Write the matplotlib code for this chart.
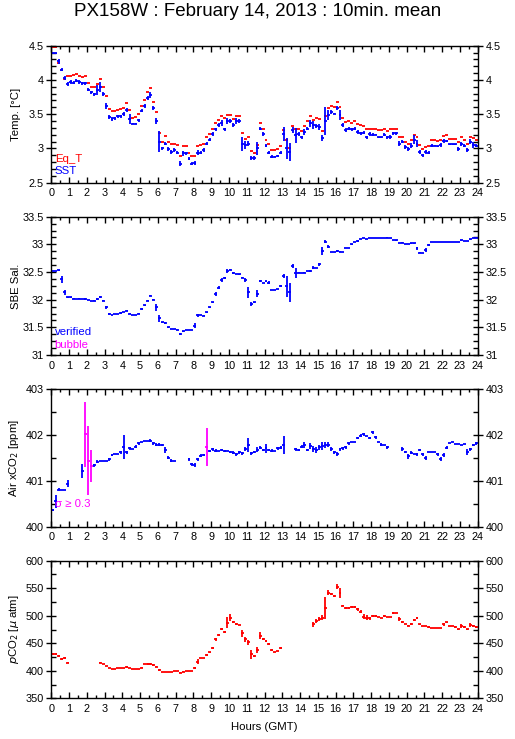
import numpy as np
import matplotlib
matplotlib.use("Agg")
import matplotlib.pyplot as plt
from matplotlib.ticker import MultipleLocator, FixedLocator

plt.rcParams['font.family'] = ['Liberation Sans', 'DejaVu Sans']

nan = np.nan
TITLE = "PX158W : February 14, 2013 : 10min. mean"
N_BINS = 144  # 10-minute bins over 24 hours
hour_ticks = list(range(25))

# ---------------- Panel 1: temperatures ----------------
sst = [4.39, 4.39, 4.27, 4.15, 4.03, 3.94, 3.97, 3.96, 3.99, 3.97, 3.95, 3.95,
       3.86, 3.82, 3.79, 3.85, 3.90, 3.80, 3.62, 3.46, 3.43, 3.44, 3.47, 3.47,
       3.50, 3.56, 3.43, 3.36, 3.36, 3.41, 3.55, 3.62, 3.73, 3.78, 3.59, 3.40,
       3.10, 3.00, 3.07, 2.99, 2.95, 2.98, 2.94, 2.78, 2.93, 2.93, 2.85, 2.78,
       2.79, 2.94, 2.94, 2.98, 3.07, 3.13, 3.21, 3.28, 3.34, 3.37, 3.28, 3.40,
       3.40, 3.34, 3.40, 3.40, 3.07, 3.05, 3.07, 2.86, 2.86, 3.00, 3.29, 3.21,
       3.04, 2.94, 2.88, 2.88, 2.89, 2.94, 3.21, 3.00, 2.95, 3.27, 3.19, 3.21,
       3.16, 3.24, 3.29, 3.37, 3.34, 3.33, 3.31, 3.15, 3.40, 3.49, 3.53, 3.51,
       3.59, 3.49, 3.34, 3.27, 3.29, 3.28, 3.29, 3.24, 3.22, 3.23, 3.16, 3.21,
       3.20, 3.20, 3.16, 3.16, 3.20, 3.16, 3.17, 3.22, 3.22, 3.07, 3.10, 3.02,
       2.99, 3.04, 3.13, 3.07, 2.95, 2.90, 2.95, 2.94, 3.04, 3.04, 3.03, 3.05,
       3.11, 3.11, 3.06, 3.06, 3.06, 2.99, 3.07, 3.04, 2.98, 3.10, 3.05, 3.04]
sst_std = [0.01, 0.01, 0.03, 0.025, 0.025, 0.025, 0.025, 0.025, 0.025, 0.025, 0.025, 0.025,
           0.025, 0.025, 0.025, 0.07, 0.07, 0.03, 0.04, 0.025, 0.025, 0.025, 0.025, 0.025,
           0.03, 0.025, 0.07, 0.01, 0.01, 0.025, 0.025, 0.025, 0.03, 0.04, 0.025, 0.05,
           0.15, 0.025, 0.025, 0.025, 0.025, 0.025, 0.025, 0.04, 0.04, 0.025, 0.025, 0.025,
           0.03, 0.04, 0.025, 0.025, 0.025, 0.025, 0.025, 0.025, 0.025, 0.04, 0.025, 0.05,
           0.025, 0.025, 0.05, 0.025, 0.10, 0.06, 0.04, 0.03, 0.025, 0.10, 0.025, 0.025,
           0.025, 0.025, 0.025, 0.01, 0.01, 0.025, 0.10, 0.15, 0.13, 0.04, 0.11, 0.025,
           0.025, 0.04, 0.025, 0.05, 0.06, 0.025, 0.04, 0.04, 0.20, 0.07, 0.025, 0.01,
           0.025, 0.07, 0.025, 0.025, 0.025, 0.025, 0.025, 0.025, 0.025, 0.025, 0.025, 0.025,
           0.025, 0.01, 0.01, 0.01, 0.025, 0.025, 0.025, 0.025, 0.025, 0.04, 0.025, 0.025,
           0.025, 0.04, 0.065, 0.05, 0.025, 0.025, 0.025, 0.025, 0.025, 0.01, 0.01, 0.025,
           0.025, 0.01, 0.01, 0.01, 0.01, 0.025, 0.03, 0.025, 0.03, 0.04, 0.04, 0.025]
eq_t = [4.48, 4.48, 4.25, 4.14, 4.02, 4.06, 4.06, 4.07, 4.08, 4.06, 4.05, 4.06,
        3.96, 3.89, 3.89, 3.94, 4.01, 3.90, 3.76, 3.57, 3.54, 3.55, 3.56, 3.57,
        3.59, 3.66, 3.56, 3.45, 3.46, 3.50, 3.62, 3.70, 3.82, 3.88, 3.68, 3.53,
        3.23, 3.09, 3.18, 3.09, 3.07, 3.07, 3.05, 2.89, 3.03, 3.04, 2.94, 2.89,
        2.89, 3.04, 3.05, 3.06, 3.16, 3.21, 3.29, 3.37, 3.42, 3.47, 3.44, 3.49,
        3.49, 3.43, 3.47, 3.48, 3.23, 3.14, 3.16, 2.96, 2.93, 3.05, 3.37, 3.29,
        3.13, 3.06, 2.98, 2.98, 2.99, 3.03, 3.27, 3.13, 3.00, 3.33, 3.29, 3.29,
        3.26, 3.33, 3.40, 3.48, 3.42, 3.44, 3.43, 3.26, 3.47, 3.59, 3.62, 3.61,
        3.68, 3.61, 3.45, 3.39, 3.40, 3.37, 3.40, 3.35, 3.34, 3.33, 3.28, 3.29,
        3.29, 3.29, 3.27, 3.27, 3.28, 3.26, 3.28, 3.29, 3.29, 3.17, 3.17, 3.10,
        3.07, 3.13, 3.20, 3.17, 3.05, 2.99, 3.02, 3.04, 3.12, 3.12, 3.11, 3.12,
        3.18, 3.19, 3.14, 3.14, 3.14, 3.10, 3.16, 3.12, 3.07, 3.16, 3.15, 3.12]

# ---------------- Panel 2: salinity ----------------
sal = [32.52, 32.52, 32.53, 32.37, 32.13, 32.04, 32.04, 32.02, 32.02, 32.02, 32.01, 32.01,
       32.00, 31.98, 31.98, 32.01, 32.05, 31.98, 31.86, 31.74, 31.73, 31.75, 31.75, 31.76,
       31.77, 31.80, 31.75, 31.72, 31.72, 31.75, 31.83, 31.90, 31.98, 32.07, 32.00, 31.86,
       31.66, 31.59, 31.58, 31.50, 31.47, 31.47, 31.46, 31.38, 31.43, 31.46, 31.46, 31.46,
       31.53, 31.72, 31.72, 31.71, 31.77, 31.86, 31.95, 32.10, 32.22, 32.36, 32.39, 32.52,
       32.54, 32.48, 32.46, 32.46, 32.40, 32.36, 32.13, 31.92, 31.95, 32.11, 32.34, 32.31,
       32.33, 32.31, 32.17, 32.17, 32.19, 32.25, 32.43, 32.24, 32.13, 32.61, 32.48, 32.49,
       32.49, 32.49, 32.52, 32.52, 32.58, 32.58, 32.64, 32.88, 33.05, 32.96, 32.86, 32.86,
       32.88, 32.87, 32.87, 32.94, 32.94, 33.00, 33.04, 33.06, 33.10, 33.11, 33.10, 33.11,
       33.11, 33.11, 33.11, 33.11, 33.11, 33.12, 33.11, 33.08, 33.07, 33.03, 33.03, 33.01,
       33.01, 33.02, 33.02, 32.93, 32.85, 32.84, 32.90, 32.99, 33.04, 33.04, 33.04, 33.04,
       33.05, 33.05, 33.04, 33.04, 33.04, 33.04, 33.07, 33.06, 33.06, 33.09, 33.11, 33.11]
sal_std = [0.0, 0.0, 0.012, 0.066, 0.05, 0.012, 0.012, 0.012, 0.0, 0.012, 0.0, 0.012,
           0.0, 0.0, 0.012, 0.012, 0.012, 0.012, 0.03, 0.012, 0.0, 0.0, 0.0, 0.012,
           0.0, 0.012, 0.012, 0.0, 0.0, 0.012, 0.012, 0.012, 0.012, 0.012, 0.012, 0.06,
           0.06, 0.012, 0.012, 0.012, 0.0, 0.0, 0.012, 0.02, 0.012, 0.0, 0.0, 0.0,
           0.04, 0.03, 0.0, 0.012, 0.012, 0.012, 0.012, 0.03, 0.03, 0.04, 0.012, 0.03,
           0.012, 0.012, 0.0, 0.012, 0.012, 0.04, 0.10, 0.03, 0.012, 0.06, 0.012, 0.0,
           0.012, 0.03, 0.0, 0.0, 0.0, 0.012, 0.04, 0.19, 0.17, 0.03, 0.09, 0.012,
           0.0, 0.012, 0.0, 0.012, 0.025, 0.0, 0.03, 0.08, 0.02, 0.03, 0.0, 0.0,
           0.012, 0.012, 0.0, 0.0, 0.0, 0.012, 0.0, 0.012, 0.0, 0.0, 0.0, 0.0,
           0.0, 0.0, 0.0, 0.0, 0.0, 0.012, 0.0, 0.0, 0.012, 0.0, 0.012, 0.0,
           0.0, 0.012, 0.012, 0.03, 0.012, 0.0, 0.03, 0.02, 0.0, 0.0, 0.0, 0.0,
           0.0, 0.0, 0.0, 0.0, 0.0, 0.0, 0.012, 0.0, 0.0, 0.012, 0.0, 0.0]

# ---------------- Panel 3: atmospheric xCO2 ----------------
air_xco2 = [400.36, 400.55, 400.81, 400.81, 400.81, 400.94, nan, nan, nan, nan, 401.22, 402.01,
            401.44, 401.33, 401.34, 401.42, 401.43, 401.43, 401.43, 401.47, 401.56, 401.58, 401.58, 401.62,
            401.74, 401.62, 401.71, 401.69, 401.74, 401.82, 401.85, 401.87, 401.87, 401.87, 401.82, 401.79,
            401.79, 401.78, 401.67, 401.50, 401.44, 401.44, nan, nan, nan, nan, 401.47, 401.36,
            401.34, 401.47, 401.55, 401.56, 401.74, 401.65, 401.69, 401.66, 401.66, 401.67, 401.65, 401.65,
            401.63, 401.61, 401.58, 401.62, 401.60, 401.69, 401.78, 401.60, 401.63, 401.68, 401.72, 401.67,
            401.71, 401.67, 401.66, 401.65, 401.71, 401.72, 401.78, nan, nan, nan, 401.69, 401.67,
            401.74, 401.78, 401.67, 401.76, 401.69, 401.67, 401.73, 401.76, 401.78, 401.79, 401.69, 401.62,
            401.58, 401.69, 401.71, 401.73, 401.82, 401.85, 401.85, 401.93, 401.98, 402.01, 401.98, 401.93,
            402.06, 401.95, 401.85, 401.79, 401.79, 401.73, nan, nan, nan, nan, 401.69, 401.63,
            401.53, 401.61, 401.58, 401.58, 401.67, 401.58, 401.50, 401.62, 401.62, 401.62, 401.58, 401.47,
            401.56, 401.72, 401.82, 401.85, 401.80, 401.80, 401.79, 401.80, 401.63, 401.69, 401.78, 401.82]
air_std = [0.02, 0.15, 0.03, 0.0, 0.0, 0.08, nan, nan, nan, nan, 0.15, 0.70,
           0.76, 0.35, 0.03, 0.03, 0.0, 0.0, 0.0, 0.03, 0.03, 0.0, 0.0, 0.03,
           0.26, 0.03, 0.03, 0.0, 0.03, 0.03, 0.0, 0.0, 0.0, 0.03, 0.03, 0.03,
           0.03, 0.03, 0.06, 0.03, 0.03, 0.0, nan, nan, nan, nan, 0.03, 0.03,
           0.04, 0.03, 0.03, 0.03, 0.42, 0.03, 0.03, 0.03, 0.0, 0.03, 0.03, 0.0,
           0.03, 0.03, 0.03, 0.03, 0.03, 0.05, 0.15, 0.03, 0.03, 0.05, 0.03, 0.03,
           0.10, 0.03, 0.03, 0.0, 0.03, 0.03, 0.19, nan, nan, nan, 0.03, 0.03,
           0.03, 0.06, 0.03, 0.06, 0.06, 0.06, 0.06, 0.08, 0.06, 0.05, 0.05, 0.03,
           0.05, 0.03, 0.03, 0.03, 0.03, 0.0, 0.0, 0.03, 0.03, 0.03, 0.0, 0.03,
           0.03, 0.03, 0.0, 0.03, 0.0, 0.03, nan, nan, nan, nan, 0.05, 0.03,
           0.06, 0.03, 0.0, 0.03, 0.03, 0.03, 0.05, 0.0, 0.0, 0.0, 0.03, 0.04,
           0.04, 0.03, 0.0, 0.0, 0.0, 0.0, 0.0, 0.0, 0.06, 0.03, 0.03, 0.03]

# ---------------- Panel 4: seawater pCO2 ----------------
pco2 = [430.5, 431.0, 427.5, 421.4, 422.6, 414.8, nan, nan, nan, nan, nan, nan,
        nan, nan, nan, nan, 414.8, 412.3, 408.7, 404.5, 403.3, 403.3, 404.5, 405.0,
        405.0, 406.3, 405.0, 402.7, 402.7, 402.7, 405.7, 411.7, 412.3, 412.3, 410.5, 407.5,
        401.5, 398.4, 398.4, 398.4, 398.4, 399.6, 399.6, 396.6, 398.4, 400.2, 400.2, 400.2,
        404.5, 416.6, 422.6, 422.6, 428.7, 433.5, 442.0, 457.0, 465.0, 476.0, 471.0, 487.4,
        496.5, 489.2, 484.4, 483.2, 468.0, 457.0, 451.7, 429.9, 427.5, 437.8, 463.8, 457.7,
        454.0, 448.0, 437.8, 434.7, 436.0, 440.8, nan, nan, nan, nan, nan, nan,
        nan, nan, nan, nan, 484.4, 490.4, 494.0, 496.5, 513.4, 541.9, 538.9, 536.4,
        552.8, 541.9, 518.3, 514.6, 513.4, 516.5, 516.5, 511.6, 507.4, 498.3, 496.5, 495.3,
        499.5, 499.5, 497.7, 495.3, 499.5, 498.3, 498.3, 504.4, 504.4, 494.0, 489.2, 485.0,
        482.0, 485.0, 492.3, 495.3, 484.4, 481.4, 482.0, 479.0, 478.3, 478.3, 477.1, 477.1,
        484.4, 488.0, 481.4, 481.4, 479.0, 475.3, 481.4, 479.0, 475.3, 483.2, 481.4, 480.1]
pco2_std = [1.5, 1.5, 2.0, 1.5, 2.0, 1.5, nan, nan, nan, nan, nan, nan,
            nan, nan, nan, nan, 1.5, 0.0, 0.0, 0.0, 0.0, 0.0, 0.0, 0.0,
            0.0, 1.5, 0.0, 0.0, 0.0, 0.0, 1.5, 0.0, 1.5, 1.5, 1.5, 1.5,
            2.0, 0.0, 0.0, 0.0, 0.0, 0.0, 0.0, 1.5, 1.5, 0.0, 0.0, 0.0,
            1.5, 4.0, 0.0, 0.0, 1.5, 1.5, 2.0, 2.0, 2.0, 2.5, 1.5, 10.0,
            6.0, 2.0, 2.0, 0.0, 7.0, 5.0, 5.0, 8.0, 2.0, 6.0, 6.0, 2.0,
            1.5, 2.0, 1.5, 0.0, 0.0, 1.5, nan, nan, nan, nan, nan, nan,
            nan, nan, nan, nan, 5.0, 3.0, 3.0, 4.0, 20.0, 4.0, 2.0, 1.5,
            5.0, 9.0, 1.5, 2.0, 2.0, 2.0, 2.0, 3.0, 3.0, 4.0, 4.0, 3.0,
            1.5, 1.5, 0.0, 0.0, 1.5, 0.0, 0.0, 1.5, 0.0, 4.0, 2.0, 0.0,
            1.5, 2.0, 2.0, 2.0, 1.5, 0.0, 0.0, 1.5, 0.0, 0.0, 0.0, 0.0,
            3.0, 1.5, 0.0, 0.0, 1.5, 1.5, 3.0, 2.0, 1.5, 3.0, 1.5, 1.5]

BLUE = '#0000ff'
RED = '#ff0000'
MAGENTA = '#ff00ff'
LW = 1.3

t_start = np.arange(N_BINS) / 6.0
t_end = t_start + 1.0 / 6.0
t_mid = t_start + 1.0 / 12.0


def draw_bins(ax, vals, std, colors):
    v = np.asarray(vals, dtype=float)
    ok = ~np.isnan(v)
    if isinstance(colors, str):
        cols = np.array([colors] * len(v), dtype=object)
    else:
        cols = np.asarray(colors, dtype=object)
    ax.hlines(v[ok], t_start[ok], t_end[ok], colors=list(cols[ok]), lw=LW)
    if std is not None:
        s = np.nan_to_num(np.asarray(std, dtype=float))
        ok2 = ok & (s > 0)
        ax.vlines(t_mid[ok2], v[ok2] - s[ok2], v[ok2] + s[ok2], colors=list(cols[ok2]), lw=LW)


fig = plt.figure(figsize=(5.15, 7.39), dpi=100)
W, H = 515.0, 739.0
left = 51.3 / W
width = (477.7 - 51.3) / W
panels = [(45.7, 182.7), (216.7, 355.0), (389.0, 526.7), (560.7, 698.3)]
axes = []
for top, bot in panels:
    ax = fig.add_axes([left, 1 - bot / H, width, (bot - top) / H])
    axes.append(ax)

fs = 7.8
lfs = 8.2

def style(ax, ylim, major, minor, labels):
    ax.set_xlim(0, 24)
    ax.set_ylim(*ylim)
    ax.xaxis.set_major_locator(FixedLocator(hour_ticks))
    ax.xaxis.set_minor_locator(MultipleLocator(0.5))
    ax.set_xticklabels([str(h) for h in hour_ticks])
    ax.yaxis.set_major_locator(FixedLocator(major))
    ax.yaxis.set_minor_locator(MultipleLocator(minor))
    ax.set_yticklabels(labels)
    ax.tick_params(axis='x', which='major', direction='in', length=4.5, width=1,
                   top=True, bottom=True, labelsize=fs, pad=4)
    ax.tick_params(axis='x', which='minor', direction='in', length=2.5, width=1,
                   top=True, bottom=True)
    ax.tick_params(axis='y', which='major', direction='inout', length=7, width=1,
                   left=True, right=True, labelleft=True, labelright=True, labelsize=fs, pad=2)
    ax.tick_params(axis='y', which='minor', direction='in', length=3.5, width=1,
                   left=True, right=True)
    for sp in ax.spines.values():
        sp.set_linewidth(1)
    ax.yaxis.set_label_coords(-0.072, 0.5)

# Panel 1
ax = axes[0]
style(ax, (2.5, 4.5), [2.5, 3, 3.5, 4, 4.5], 0.1, ['2.5', '3', '3.5', '4', '4.5'])
draw_bins(ax, eq_t, None, RED)
draw_bins(ax, sst, sst_std, BLUE)
ax.set_ylabel('Temp. [°C]', fontsize=lfs)
ax.text(0.008, 0.175, 'Eq_T', color=RED, fontsize=lfs, transform=ax.transAxes, va='center')
ax.text(0.008, 0.085, 'SST', color=BLUE, fontsize=lfs, transform=ax.transAxes, va='center')

# Panel 2
ax = axes[1]
style(ax, (31, 33.5), [31, 31.5, 32, 32.5, 33, 33.5], 0.125,
      ['31', '31.5', '32', '32.5', '33', '33.5'])
draw_bins(ax, sal, sal_std, BLUE)
ax.set_ylabel('SBE Sal.', fontsize=lfs)
ax.text(0.008, 0.165, 'verified', color=BLUE, fontsize=lfs, transform=ax.transAxes, va='center')
ax.text(0.008, 0.075, 'bubble', color=MAGENTA, fontsize=lfs, transform=ax.transAxes, va='center')

# Panel 3
ax = axes[2]
style(ax, (400, 403), [400, 401, 402, 403], 0.5, ['400', '401', '402', '403'])
air_cols = [MAGENTA if (not np.isnan(s) and s >= 0.3) else BLUE for s in air_std]
draw_bins(ax, air_xco2, air_std, air_cols)
ax.set_ylabel('Air xCO$_2$ [ppm]', fontsize=lfs)
ax.text(0.008, 0.165, 'σ ≥ 0.3', color=MAGENTA, fontsize=lfs, transform=ax.transAxes, va='center')

# Panel 4
ax = axes[3]
style(ax, (350, 600), [350, 400, 450, 500, 550, 600], 25,
      ['350', '400', '450', '500', '550', '600'])
draw_bins(ax, pco2, pco2_std, RED)
ax.set_ylabel('$p$CO$_2$ [$\\mu$ atm]', fontsize=lfs)
ax.set_xlabel('Hours (GMT)', fontsize=lfs, labelpad=6)

fig.text(0.5, 1 - 12 / H, TITLE, ha='center', va='center', fontsize=13.5)

fig.savefig('out.png', dpi=100)
